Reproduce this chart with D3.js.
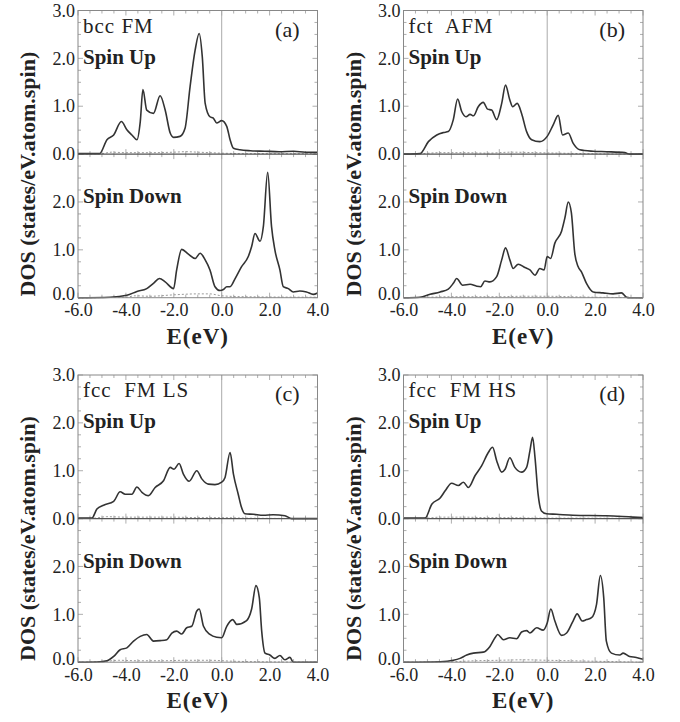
<!DOCTYPE html>
<html>
<head>
<meta charset="utf-8">
<script src="https://cdn.jsdelivr.net/npm/d3@7"></script>
<style>
  body { margin: 0; background: #fff; }
  text { font-family: "Liberation Serif", "Times New Roman", serif; fill: #222; }
</style>
</head>
<body>
<div id="chart-area"></div>
<script>
// tick values and labels
var energyTicks = [-6, -4, -2, 0, 2, 4];
var upDosTicks = [0, 1, 2, 3];
var downDosTicks = [0, 1, 2];
var panelTitles = ["bcc FM", "fct  AFM", "fcc  FM LS", "fcc  FM HS"];
var panelLetters = ["(a)", "(b)", "(c)", "(d)"];
var spinLabels = ["Spin Up", "Spin Down"];
var xLabel = "E(eV)";
var yLabel = "DOS (states/eV.atom.spin)";

// total DOS, [energy eV, states]
var aUp = [[-6,0.01],[-5.1,0.01],[-4.79,0.3],[-4.51,0.4],[-4.19,0.68],[-3.96,0.51],[-3.75,0.4],[-3.54,0.3],[-3.4,0.68],[-3.29,1.35],[-3.13,0.92],[-2.85,0.85],[-2.57,1.22],[-2.36,0.92],[-2.15,0.44],[-2.01,0.35],[-1.74,0.37],[-1.53,0.54],[-1.32,1.41],[-1.11,2.17],[-0.94,2.52],[-0.81,2.03],[-0.69,1.06],[-0.49,0.78],[-0.35,0.75],[-0.21,0.65],[0,0.7],[0.21,0.58],[0.35,0.3],[0.49,0.12],[0.76,0.09],[1.2,0.07],[1.8,0.06],[2.4,0.05],[3.0,0.06],[3.5,0.04],[4,0.04]];
var aDown = [[-6,0.0],[-4.65,0.01],[-3.96,0.05],[-3.54,0.13],[-3.13,0.19],[-2.85,0.3],[-2.6,0.4],[-2.36,0.33],[-2.01,0.19],[-1.88,0.58],[-1.67,1.01],[-1.39,0.91],[-1.11,0.82],[-0.9,0.93],[-0.69,0.79],[-0.49,0.58],[-0.28,0.23],[-0.07,0.15],[0.07,0.17],[0.21,0.23],[0.35,0.23],[0.56,0.4],[0.83,0.65],[1.11,0.86],[1.25,1.07],[1.39,1.34],[1.6,1.18],[1.74,1.49],[1.92,2.62],[2.08,1.49],[2.22,1.0],[2.43,0.58],[2.57,0.23],[2.78,0.19],[2.99,0.12],[3.26,0.14],[3.54,0.12],[3.82,0.07],[4,0.1]];
var bUp = [[-6,0.0],[-5.31,0.01],[-4.96,0.26],[-4.61,0.4],[-4.33,0.45],[-4.13,0.47],[-3.92,0.72],[-3.74,1.15],[-3.57,0.89],[-3.39,0.78],[-3.22,0.83],[-3.08,0.8],[-2.88,0.99],[-2.67,1.08],[-2.49,0.94],[-2.32,0.92],[-2.11,0.72],[-1.9,1.06],[-1.74,1.44],[-1.56,1.13],[-1.44,0.99],[-1.25,1.06],[-1.07,0.85],[-0.86,0.47],[-0.65,0.3],[-0.31,0.26],[0,0.37],[0.25,0.61],[0.46,0.81],[0.64,0.4],[0.88,0.44],[1.08,0.23],[1.36,0.09],[1.92,0.06],[2.47,0.05],[3.24,0.03],[3.44,0.0],[4,0.0]];
var bDown = [[-6,0.0],[-5.31,0.01],[-4.89,0.07],[-4.47,0.12],[-4.13,0.18],[-3.92,0.3],[-3.78,0.4],[-3.53,0.26],[-3.22,0.28],[-2.94,0.24],[-2.78,0.23],[-2.6,0.35],[-2.39,0.33],[-2.11,0.44],[-1.9,0.79],[-1.74,1.04],[-1.56,0.79],[-1.42,0.61],[-1.21,0.7],[-0.93,0.63],[-0.72,0.58],[-0.51,0.47],[-0.31,0.61],[-0.13,0.58],[0,0.86],[0.14,0.82],[0.32,1.14],[0.6,1.39],[0.74,1.67],[0.88,2.0],[1.01,1.77],[1.15,0.93],[1.29,0.65],[1.43,0.54],[1.64,0.3],[1.92,0.12],[2.33,0.1],[2.75,0.08],[3.1,0.1],[3.31,0.01],[3.44,0.0],[4,0.0]];
var cUp = [[-6,0.01],[-5.42,0.01],[-5.21,0.2],[-4.93,0.28],[-4.51,0.36],[-4.24,0.56],[-4.03,0.51],[-3.75,0.51],[-3.54,0.66],[-3.33,0.55],[-3.06,0.48],[-2.78,0.65],[-2.43,0.79],[-2.15,1.07],[-1.99,1.03],[-1.78,1.15],[-1.6,0.93],[-1.36,0.78],[-1.04,1.0],[-0.83,0.83],[-0.56,0.72],[-0.28,0.71],[0,0.76],[0.14,0.86],[0.35,1.38],[0.49,0.93],[0.69,0.51],[0.83,0.23],[0.97,0.1],[1.32,0.09],[1.74,0.07],[2.15,0.08],[2.64,0.06],[2.92,0.0],[4,0.0]];
var cDown = [[-6,0.0],[-5.07,0.01],[-4.79,0.03],[-4.51,0.12],[-4.24,0.26],[-3.96,0.3],[-3.68,0.44],[-3.4,0.54],[-3.13,0.58],[-2.85,0.44],[-2.57,0.45],[-2.29,0.47],[-2.08,0.61],[-1.88,0.65],[-1.67,0.59],[-1.46,0.72],[-1.25,0.75],[-1.04,1.07],[-0.94,1.11],[-0.76,0.75],[-0.49,0.58],[-0.21,0.52],[0,0.51],[0.21,0.75],[0.46,0.89],[0.63,0.79],[1.04,0.87],[1.25,1.11],[1.43,1.6],[1.57,1.35],[1.67,0.65],[1.81,0.19],[2.01,0.15],[2.22,0.08],[2.43,0.14],[2.64,0.05],[2.85,0.1],[2.99,0.0],[4,0.0]];
var dUp = [[-6,0.01],[-5.1,0.01],[-4.82,0.3],[-4.47,0.43],[-4.26,0.58],[-3.99,0.74],[-3.71,0.69],[-3.5,0.76],[-3.29,0.65],[-3.01,0.9],[-2.74,1.1],[-2.46,1.38],[-2.28,1.49],[-2.11,1.21],[-1.9,0.97],[-1.76,1.03],[-1.56,1.27],[-1.35,1.07],[-1.07,0.97],[-0.86,1.07],[-0.72,1.42],[-0.61,1.7],[-0.51,1.28],[-0.38,0.51],[-0.24,0.16],[-0.03,0.1],[0.39,0.09],[1.08,0.07],[2.47,0.06],[3.58,0.03],[4,0.02]];
var dDown = [[-6,0.0],[-4.47,0.01],[-3.92,0.04],[-3.64,0.08],[-3.36,0.15],[-3.08,0.19],[-2.67,0.21],[-2.39,0.33],[-2.18,0.51],[-2.07,0.58],[-1.83,0.47],[-1.56,0.51],[-1.28,0.49],[-1.07,0.63],[-0.86,0.66],[-0.72,0.61],[-0.44,0.72],[-0.17,0.67],[0,0.82],[0.15,1.11],[0.32,0.86],[0.6,0.56],[0.81,0.61],[1.08,0.86],[1.25,1.01],[1.46,0.86],[1.64,0.89],[1.85,0.93],[2.06,1.21],[2.22,1.81],[2.36,1.35],[2.47,0.44],[2.68,0.19],[3.03,0.15],[3.17,0.19],[3.44,0.12],[3.72,0.1],[4,0.06]];

// small partial DOS (dotted)
var aUpDot = [[-6,0],[-5,0.01],[-4.6,0.04],[-4,0.03],[-3,0.03],[-2,0.04],[-1.5,0.05],[-1,0.04],[-0.5,0.03],[0,0.02],[1,0.01],[4,0.01]];
var aDownDot = [[-6,0],[-4,0.01],[-3.6,0.04],[-3,0.03],[-2,0.06],[-1,0.08],[-0.5,0.08],[0,0.04],[1,0.02],[4,0.01]];
var bUpDot = [[-6,0],[-5.2,0.01],[-4.5,0.03],[-3.5,0.03],[-2.5,0.02],[-1.5,0.04],[-0.5,0.03],[0.5,0.02],[1.5,0.01],[4,0]];
var bDownDot = [[-6,0],[-5,0.01],[-4,0.02],[-3,0.02],[-2,0.02],[-1,0.03],[0,0.03],[1,0.02],[2,0.01],[4,0]];
var cUpDot = [[-6,0],[-5.3,0.01],[-4.8,0.04],[-4,0.03],[-3,0.03],[-2,0.03],[-1,0.02],[0,0.02],[1,0.01],[4,0]];
var cDownDot = [[-6,0],[-5,0.01],[-4.3,0.04],[-3.5,0.03],[-2.5,0.03],[-1.5,0.04],[-0.5,0.04],[0.5,0.02],[1.5,0.01],[4,0]];
var dUpDot = [[-6,0],[-5,0.01],[-4.5,0.03],[-3.5,0.03],[-2.5,0.02],[-1.5,0.02],[-0.5,0.01],[1,0.01],[4,0]];
var dDownDot = [[-6,0],[-4,0.01],[-3,0.03],[-2,0.04],[-1,0.05],[0,0.04],[1,0.03],[2,0.02],[3,0.01],[4,0]];

var upSeries = [aUp, bUp, cUp, dUp];
var downSeries = [aDown, bDown, cDown, dDown];
var upDots = [aUpDot, bUpDot, cUpDot, dUpDot];
var downDots = [aDownDot, bDownDot, cDownDot, dDownDot];

// layout
var panelW = 239.5;
var subH = 143.6;
var panels = [
  {left: 78, top: 10.5},
  {left: 403.5, top: 10.5},
  {left: 78, top: 375},
  {left: 403.5, top: 375}
];

// plain hyphen instead of the unicode minus
var fmt = function(d) { return d.toFixed(1); };

var svg = d3.select("#chart-area")
  .append("svg")
    .attr("width", 680)
    .attr("height", 722);

panels.forEach(function(p, i) {
  var g = svg.append("g")
    .attr("transform", "translate(" + p.left + ", " + p.top + ")");

  var x = d3.scaleLinear().domain([-6, 4]).range([0, panelW]);
  var yUp = d3.scaleLinear().domain([0, 3]).range([subH, 0]);
  var yDown = d3.scaleLinear().domain([0, 3]).range([2 * subH, subH]);

  // minor ticks on the frame
  var minorX = d3.range(-6, 4.01, 0.5);
  var minorY = d3.range(0, 3.01, 0.25);
  [yUp, yDown].forEach(function(y) {
    g.append("g").selectAll("line").data(minorX).enter().append("line")
      .attr("x1", function(d) { return x(d); }).attr("x2", function(d) { return x(d); })
      .attr("y1", y(3)).attr("y2", function(d) { return y(3) + (d % 2 === 0 ? 5 : 3); })
      .attr("stroke", "#999").attr("stroke-width", 0.8);
    g.append("g").selectAll("line").data(minorX).enter().append("line")
      .attr("x1", function(d) { return x(d); }).attr("x2", function(d) { return x(d); })
      .attr("y1", y(0)).attr("y2", function(d) { return y(0) - (d % 2 === 0 ? 5 : 3); })
      .attr("stroke", "#999").attr("stroke-width", 0.8);
    g.append("g").selectAll("line").data(minorY).enter().append("line")
      .attr("x1", 0).attr("x2", function(d) { return d % 1 === 0 ? 5 : 3; })
      .attr("y1", function(d) { return y(d); }).attr("y2", function(d) { return y(d); })
      .attr("stroke", "#999").attr("stroke-width", 0.8);
    g.append("g").selectAll("line").data(minorY).enter().append("line")
      .attr("x1", panelW).attr("x2", function(d) { return panelW - (d % 1 === 0 ? 5 : 3); })
      .attr("y1", function(d) { return y(d); }).attr("y2", function(d) { return y(d); })
      .attr("stroke", "#999").attr("stroke-width", 0.8);
  });

  // Fermi level
  g.append("line")
    .attr("x1", x(0)).attr("x2", x(0))
    .attr("y1", 0).attr("y2", 2 * subH)
    .attr("stroke", "#aaa").attr("stroke-width", 1);

  // curves
  var lineUp = d3.line().x(function(d) { return x(d[0]); }).y(function(d) { return yUp(d[1]); }).curve(d3.curveMonotoneX);
  var lineDown = d3.line().x(function(d) { return x(d[0]); }).y(function(d) { return yDown(d[1]); }).curve(d3.curveMonotoneX);

  g.append("path").attr("d", lineUp(upDots[i]))
    .attr("fill", "none").attr("stroke", "#999").attr("stroke-width", 1).attr("stroke-dasharray", "2,2");
  g.append("path").attr("d", lineDown(downDots[i]))
    .attr("fill", "none").attr("stroke", "#999").attr("stroke-width", 1).attr("stroke-dasharray", "2,2");
  g.append("path").attr("d", lineUp(upSeries[i]))
    .attr("fill", "none").attr("stroke", "#333").attr("stroke-width", 1.6);
  g.append("path").attr("d", lineDown(downSeries[i]))
    .attr("fill", "none").attr("stroke", "#333").attr("stroke-width", 1.6);

  // frame
  g.append("rect")
    .attr("width", panelW).attr("height", 2 * subH)
    .attr("fill", "none").attr("stroke", "#888").attr("stroke-width", 1);
  g.append("line")
    .attr("x1", 0).attr("x2", panelW).attr("y1", subH).attr("y2", subH)
    .attr("stroke", "#555").attr("stroke-width", 1.2);

  // axes
  var leftUp = d3.axisLeft(yUp).tickValues(upDosTicks).tickSize(0).tickPadding(3).tickFormat(fmt);
  var leftDown = d3.axisLeft(yDown).tickValues(downDosTicks).tickSize(0).tickPadding(3).tickFormat(fmt);
  var bottom = d3.axisBottom(x).tickValues(energyTicks).tickSize(0).tickPadding(6).tickFormat(fmt);

  var upAxis = g.append("g").call(leftUp);
  var downAxis = g.append("g").call(leftDown);
  var xAxis = g.append("g").attr("transform", "translate(0, " + 2 * subH + ")").call(bottom);

  [upAxis, downAxis, xAxis].forEach(function(ax) {
    ax.select(".domain").remove();
    ax.selectAll("text")
      .attr("font-size", "18px")
      .attr("fill", "#222");
  });

  // keep the bottom 0.0 clear of the energy labels
  downAxis.selectAll("text").filter(function(d) { return d === 0; }).attr("dy", "0.12em");

  // axis titles
  g.append("text")
    .attr("x", panelW / 2)
    .attr("y", 2 * subH + 46)
    .attr("text-anchor", "middle")
    .attr("font-size", "23px")
    .attr("font-weight", "bold")
    .attr("letter-spacing", "1px")
    .text(xLabel);

  g.append("text")
    .attr("transform", "translate(-43, " + (subH + 20) + ") rotate(-90)")
    .attr("text-anchor", "middle")
    .attr("font-size", "22px")
    .attr("font-weight", "bold")
    .text(yLabel);

  // annotations
  g.append("text")
    .attr("x", 5).attr("y", 22)
    .attr("font-size", "21px")
    .attr("letter-spacing", "1px")
    .style("white-space", "pre")
    .text(panelTitles[i]);
  g.append("text")
    .attr("x", panelW - 18).attr("y", 26)
    .attr("text-anchor", "end")
    .attr("font-size", "22px")
    .text(panelLetters[i]);
  g.append("text")
    .attr("x", 5).attr("y", 53)
    .attr("font-size", "21px")
    .attr("font-weight", "bold")
    .text(spinLabels[0]);
  g.append("text")
    .attr("x", 5).attr("y", subH + 49)
    .attr("font-size", "21px")
    .attr("font-weight", "bold")
    .text(spinLabels[1]);
});
</script>
</body>
</html>
